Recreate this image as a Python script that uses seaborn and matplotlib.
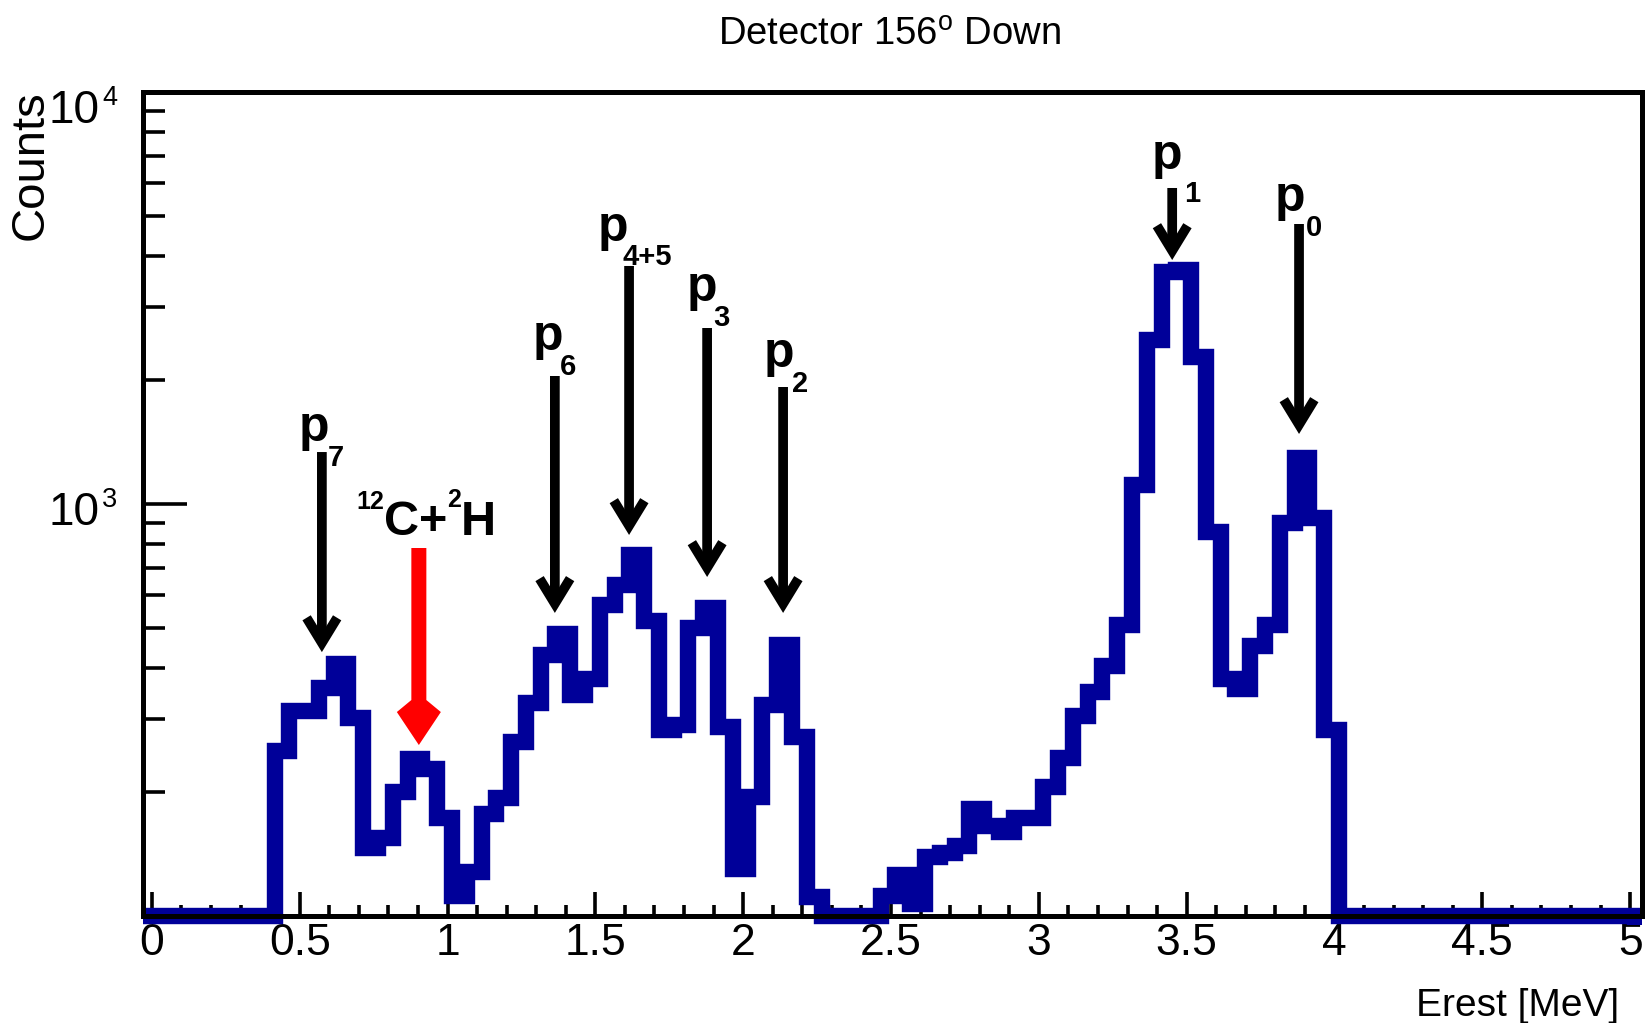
import numpy as np
import pandas as pd
import matplotlib
matplotlib.use("Agg")
import matplotlib.pyplot as plt
import seaborn as sns
from matplotlib.ticker import FixedLocator, FixedFormatter, NullFormatter
from matplotlib.patches import Rectangle, Polygon
from matplotlib.transforms import IdentityTransform

# ---------------- data ----------------
bin_width = 0.05
grid_start = -0.035          # first bin edge of the histogram grid
n_bins = 102
first_filled_bin = 9         # bin [0.415, 0.465]
counts_filled = [251, 314, 314, 357, 410, 303, 146, 155, 200, 241, 228, 173,
                 112, 128, 177, 193, 265, 328, 431, 483, 344, 376, 569, 635,
                 750, 519, 282, 290, 499, 558, 288, 130, 194, 326, 456, 272,
                 111, 0, 0, 0, 0, 112, 126, 107, 139, 142, 148, 182, 165, 160,
                 173, 173, 206, 242, 306, 350, 404, 509, 1110, 2505, 3650,
                 3705, 2280, 855, 375, 356, 451, 508, 898, 1293, 926, 283]

x_major = [0, 0.5, 1, 1.5, 2, 2.5, 3, 3.5, 4, 4.5, 5]
x_major_labels = ["0", "0.5", "1", "1.5", "2", "2.5", "3", "3.5", "4", "4.5", "5"]
y_major = [1000, 10000]
y_major_exp = ["3", "4"]

# peak arrows (energy, counts at arrow top, counts at arrow tip)
peak_sub = ["7", "6", "4+5", "3", "2", "1", "0"]
peak_E = [0.575, 1.363, 1.614, 1.878, 2.135, 3.451, 3.880]
peak_top = [1337, 2045, 3782, 2674, 1923, 5848, 4782]
peak_tip = [437, 544, 841, 665, 544, 3910, 1479]
# label "p" anchor (left, baseline) and subscript anchor (left, baseline)
p_x = [0.497, 1.289, 1.509, 1.810, 2.070, 3.383, 3.799]
p_y = [1420, 2370, 4348, 3110, 2150, 6500, 5150]
sub_x = [0.595, 1.380, 1.593, 1.898, 2.165, 3.491, 3.904]
sub_y = [1240, 2060, 3800, 2710, 1865, 5400, 4470]

# contaminant arrow
cd_E = 0.903
cd_top = 782
cd_tip = 260
cd_label_x = 0.690
cd_label_y = 841

XMIN, XMAX = -0.03, 5.04
YMIN, YMAX = 100, 10000

# ---------------- build histogram table ----------------
edges = grid_start + bin_width * np.arange(n_bins + 1)
counts = np.zeros(n_bins)
counts[first_filled_bin:first_filled_bin + len(counts_filled)] = counts_filled
centers = 0.5 * (edges[:-1] + edges[1:])
edges_plot = [float(e) for e in np.unique(np.clip(edges, XMIN, XMAX))]
keep = (centers > XMIN) & (centers < XMAX)
# empty bins are drawn on the lower frame, as ROOT does on a log axis
df = pd.DataFrame({"E": centers[keep], "w": np.maximum(counts[keep], YMIN)})

# ---------------- style ----------------
sns.set_theme(style="white")
plt.rcParams["font.family"] = ["Liberation Sans", "DejaVu Sans"]
plt.rcParams["mathtext.fontset"] = "custom"
plt.rcParams["mathtext.rm"] = "Liberation Sans"
plt.rcParams["mathtext.it"] = "Liberation Sans:italic"
plt.rcParams["mathtext.bf"] = "Liberation Sans:bold"

W, H = 1652, 1023
DPI = 100
PT = 72.0 / DPI   # points per pixel
fig = plt.figure(figsize=(W / DPI, H / DPI), dpi=DPI)
fig.patch.set_facecolor("white")
ax = fig.add_axes([143 / W, 1 - 916 / H, (1642 - 143) / W, (916 - 92) / H])
ax.set_facecolor("white")

sns.histplot(data=df, x="E", weights="w", bins=edges_plot, element="step",
             fill=False, color="#000099", linewidth=11.8, ax=ax)
hline = ax.lines[-1]
hline.set_solid_joinstyle("miter")
hline.set_solid_capstyle("butt")
hline.set_zorder(2)
# let the thick line spill just below the lower frame, but nothing further
clip_rect = Rectangle((0, -0.0105), 1, 1.02, transform=ax.transAxes,
                      facecolor="none", edgecolor="none")
ax.add_patch(clip_rect)
hline.set_clip_path(clip_rect)

ax.set_yscale("log")
ax.set_xlim(XMIN, XMAX)
ax.set_ylim(YMIN, YMAX)
ax.set_xlabel("")
ax.set_ylabel("")

# ticks
ax.xaxis.set_major_locator(FixedLocator(x_major))
ax.xaxis.set_major_formatter(FixedFormatter(x_major_labels))
ax.xaxis.set_minor_locator(FixedLocator([m / 10 for m in range(0, 51) if m % 5 != 0]))
ax.yaxis.set_major_locator(FixedLocator(y_major))
ax.yaxis.set_minor_locator(FixedLocator([d * 100 for d in range(2, 10)] + [d * 1000 for d in range(2, 10)]))
ax.yaxis.set_minor_formatter(NullFormatter())
ax.tick_params(axis="x", which="major", direction="in", length=17, width=2.6,
               labelsize=32, pad=5, colors="black", bottom=True, top=False)
ax.tick_params(axis="x", which="minor", direction="in", length=8, width=2.6,
               bottom=True, top=False, colors="black")
ax.tick_params(axis="y", which="major", direction="in", length=32, width=2.6,
               labelleft=False, left=True, right=False, colors="black")
ax.tick_params(axis="y", which="minor", direction="in", length=16, width=2.6,
               left=True, right=False, colors="black")
for s in ax.spines.values():
    s.set_visible(True)
    s.set_color("black")
    s.set_linewidth(3.6)
    s.set_zorder(3)

# y tick labels in ROOT style: "10" with a small raised exponent
main_dy = [-21, -31]
for v, e, dy in zip(y_major, y_major_exp, main_dy):
    ax.annotate("10", xy=(0, v), xycoords=("axes fraction", "data"),
                xytext=(-44 * PT, dy * PT), textcoords="offset points",
                ha="right", va="baseline", fontsize=33, color="black",
                annotation_clip=False)
    ax.annotate(e, xy=(0, v), xycoords=("axes fraction", "data"),
                xytext=(-41 * PT, (dy + 18) * PT), textcoords="offset points",
                ha="left", va="baseline", fontsize=19.5, color="black",
                annotation_clip=False)

# titles
fig.text(890 / W, 1 - 35 / H, r"Detector 156$^{\mathrm{o}}$ Down", ha="center",
         va="center", fontsize=27.5, color="black")
fig.text(31 / W, 1 - 90 / H, "Counts", rotation=90, ha="center", va="top",
         fontsize=34, color="black")
fig.text(1619 / W, 1 - 1006 / H, "Erest [MeV]", ha="right", va="center",
         fontsize=28, color="black")

# peak arrows and labels
for E, top, tip in zip(peak_E, peak_top, peak_tip):
    ax.annotate("", xy=(E, tip), xytext=(E, top), xycoords="data",
                arrowprops=dict(arrowstyle="->,head_length=18,head_width=11",
                                mutation_scale=1, lw=7, color="black",
                                shrinkA=0, shrinkB=0, joinstyle="miter",
                                capstyle="butt"),
                annotation_clip=False, zorder=4)
for px, py, sx, sy, sub in zip(p_x, p_y, sub_x, sub_y, peak_sub):
    ax.text(px, py, "p", fontsize=36, fontweight="bold", ha="left",
            va="baseline", color="black", zorder=5)
    ax.text(sx, sy, sub, fontsize=21, fontweight="bold", ha="left",
            va="baseline", color="black", zorder=5)

# red arrow: shaft + kite-shaped head, built in pixels around the data points
fig.canvas.draw()
tip_px = ax.transData.transform((cd_E, cd_tip))
top_px = ax.transData.transform((cd_E, cd_top))
shaft_len = top_px[1] - tip_px[1]
head = [(0, 0), (22, 33), (7.5, 45), (7.5, shaft_len), (-7.5, shaft_len),
        (-7.5, 45), (-22, 33)]
verts = [(tip_px[0] + hx, tip_px[1] + hy) for hx, hy in head]
ax.add_patch(Polygon(verts, closed=True, facecolor="#ff0000", edgecolor="none",
                     transform=IdentityTransform(), clip_on=False, zorder=4))

# chained label  12C + 2H
renderer = fig.canvas.get_renderer()
pieces = [("12", 18, 19), ("C+", 35, 0), ("2", 18, 20), ("H", 35, 0)]
dx = 0.0
for s, size, dy in pieces:
    t = ax.annotate(s, xy=(cd_label_x, cd_label_y), xycoords="data",
                    xytext=(dx, dy), textcoords="offset points",
                    fontsize=size, fontweight="bold", ha="left", va="baseline",
                    color="black", annotation_clip=False, zorder=5)
    bb = t.get_window_extent(renderer)
    dx += bb.width * 72 / fig.dpi

fig.savefig("out.png", dpi=DPI, facecolor="white")
